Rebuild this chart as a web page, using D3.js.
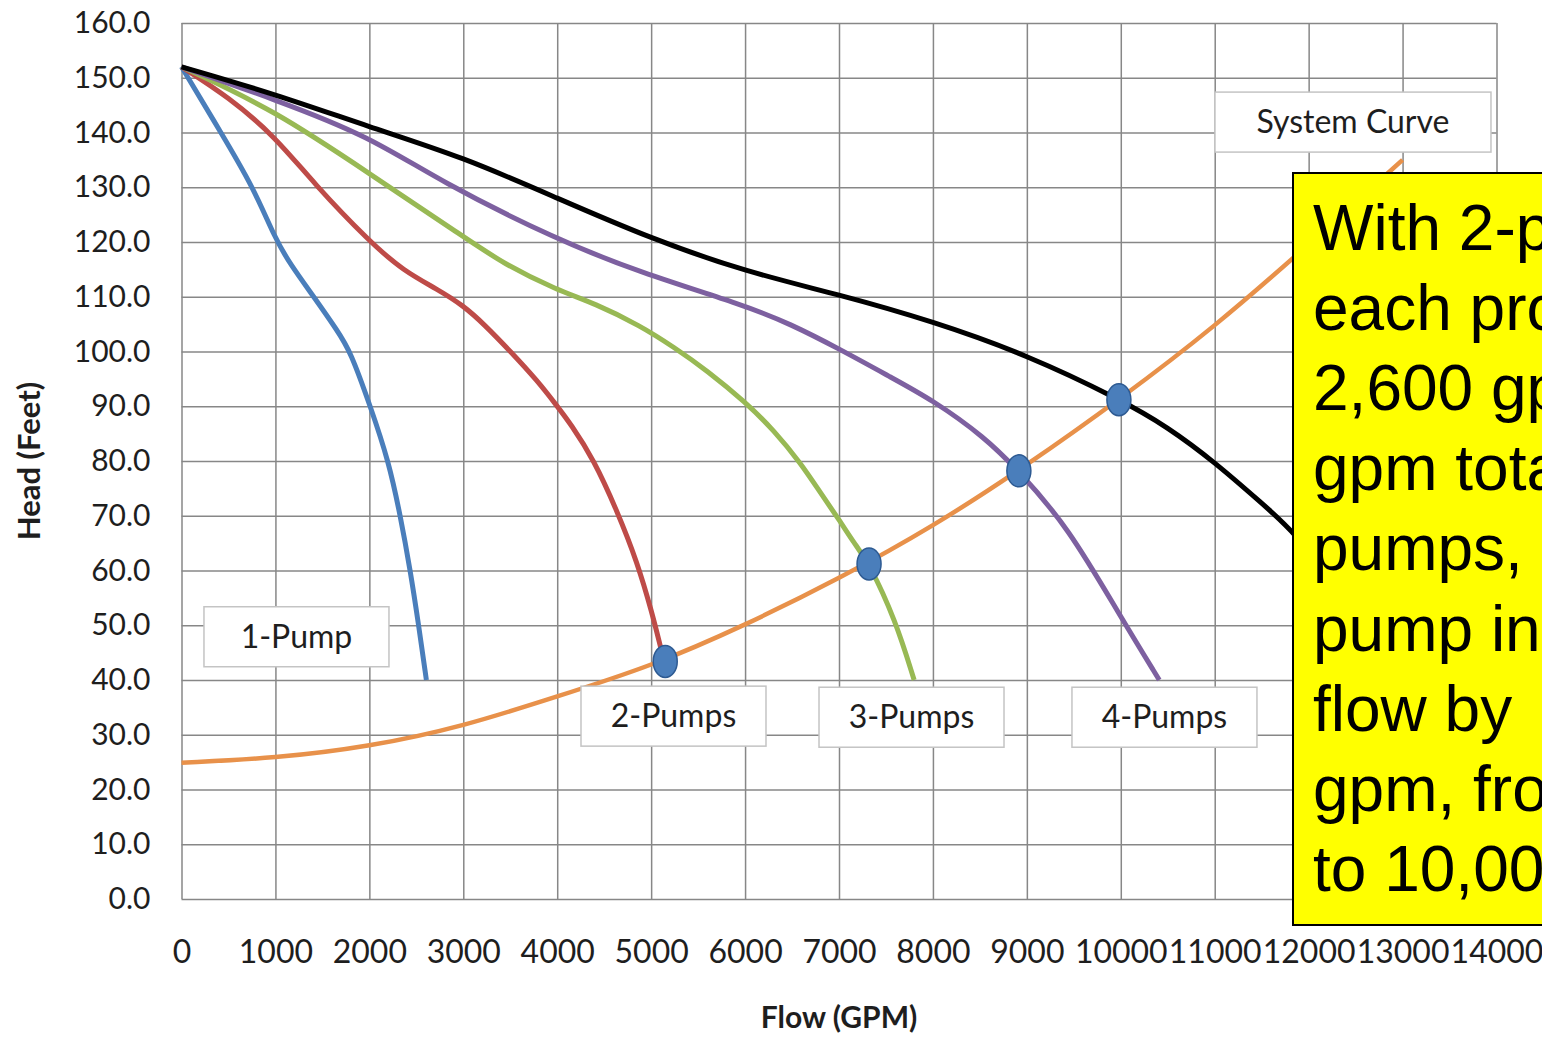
<!DOCTYPE html>
<html>
<head>
<meta charset="utf-8">
<script src="https://cdn.jsdelivr.net/npm/d3@7"></script>
<style>
  html, body { margin: 0; padding: 0; background: #fff; overflow: hidden; }
  svg { display: block; }
  .tick-labels text { font-family: Lato, "Open Sans", sans-serif; fill: #1e1e1e; }
  .tick-labels .domain { display: none; }
  .grid-lines line { stroke: #878787; stroke-width: 1.5; }
  .grid-lines .domain { display: none; }
</style>
</head>
<body>
<div id="chart"></div>
<script>
// axis ticks
const flowTicks = [0, 1000, 2000, 3000, 4000, 5000, 6000, 7000, 8000, 9000, 10000, 11000, 12000, 13000, 14000];
const headTicks = [0, 10, 20, 30, 40, 50, 60, 70, 80, 90, 100, 110, 120, 130, 140, 150, 160];

// pump curves [flow gpm, head ft]
const onePump = [[0,152],[420,140],[765,130],[1000,120.5],[1160,115.9],[1408,110],[1660,103.8],[1800,100],[2010,90],[2205,80],[2330,70],[2436,60],[2525,50],[2607,40]];
const twoPumps = [[0,152],[500,146.5],[1000,139.2],[1403,130.8],[2005,120],[2367,114.7],[2722,111.4],[3000,108.4],[3220,105],[3503,100],[3787,94.7],[4000,90],[4142,86.8],[4388,80.3],[4637,70.9],[4851,61.6],[5011,52.2],[5100,46],[5160,42]];
const threePumps = [[0,152],[1000,144],[2000,132.5],[3000,121],[3430,116],[4000,111.2],[4400,108.8],[4886,104.7],[5242,100.8],[5597,96.5],[6000,90.8],[6308,85.6],[6593,79.6],[6806,74.1],[7000,69.3],[7161,65],[7320,61.3],[7600,51],[7800,40]];
const fourPumps = [[0,152],[1000,146],[2000,139.3],[2750,131.1],[4000,120.4],[4886,114.4],[6000,108.4],[6486,105],[7000,100.5],[7552,95.3],[8000,91.1],[8548,84.4],[8913,78.2],[9437,68],[10000,51.5],[10410,40]];
const fivePumps = [[0,152],[1000,147],[2000,141],[3000,135.5],[4000,128],[5000,120.6],[6000,114.6],[7000,110.4],[8000,105.5],[9000,99.4],[10000,91.2],[10500,86.2],[11000,79.8],[11500,72.3],[11850,67],[12300,57],[12700,46]];
const systemCurve = [[0,24.9],[1000,25.7],[2000,27.8],[3000,31.5],[4000,37],[5000,42.5],[6000,50],[7000,58.5],[8000,68],[9000,79.2],[10000,91.4],[11000,104.5],[12000,119.5],[13000,135]];

// operating points (intersections)
const operatingPoints = [[5150,43.4],[7320,61.2],[8915,78.2],[9980,91.2]];

// curve labels, anchored in data units
const labelTexts = ["1-Pump", "2-Pumps", "3-Pumps", "4-Pumps", "System Curve"];
const labelFlows = [1224, 5238, 7772, 10465, 12472];
const labelHeads = [47.9, 33.4, 33.2, 33.2, 141.9];

const noteLines = ["With 2-pumps,", "each produces", "2,600 gpm; 5,200", "gpm total. At 4", "pumps,", "pump increases", "flow by", "gpm, from 5,200", "to 10,000 gpm."];

const width = 1542, height = 1037;

const svg = d3.select("#chart").append("svg")
  .attr("width", width)
  .attr("height", height);

const x = d3.scaleLinear().domain([0, 14000]).range([181.5, 1496.5]);
const y = d3.scaleLinear().domain([0, 160]).range([899, 23]);

// grid
svg.append("g")
  .attr("class", "grid-lines")
  .attr("transform", `translate(0, ${y(0)})`)
  .call(d3.axisBottom(x).tickValues(flowTicks).tickFormat("").tickSize(-(y(0) - y(160))));

svg.append("g")
  .attr("class", "grid-lines")
  .attr("transform", `translate(${x(0)}, 0)`)
  .call(d3.axisLeft(y).tickValues(headTicks).tickFormat("").tickSize(-(x(14000) - x(0))));

// tick labels
svg.append("g")
  .attr("class", "tick-labels")
  .attr("transform", `translate(0, ${y(0)})`)
  .call(d3.axisBottom(x).tickValues(flowTicks).tickFormat(d3.format("d")).tickSize(0).tickPadding(41))
  .selectAll("text").style("font-size", "32px");

svg.append("g")
  .attr("class", "tick-labels")
  .attr("transform", `translate(${x(0)}, 0)`)
  .call(d3.axisLeft(y).tickValues(headTicks).tickFormat(d3.format(".1f")).tickSize(0).tickPadding(31))
  .selectAll("text").style("font-size", "30px");

// axis titles
svg.append("text")
  .attr("transform", `translate(40, ${(y(0) + y(160)) / 2}) rotate(-90)`)
  .attr("text-anchor", "middle")
  .style("font-family", "Lato, sans-serif")
  .style("font-weight", "bold")
  .style("font-size", "31px")
  .attr("fill", "#1e1e1e")
  .text("Head (Feet)");

svg.append("text")
  .attr("x", (x(0) + x(14000)) / 2)
  .attr("y", 1028)
  .attr("text-anchor", "middle")
  .style("font-family", "Lato, sans-serif")
  .style("font-weight", "bold")
  .style("font-size", "30px")
  .attr("fill", "#1e1e1e")
  .text("Flow (GPM)");

// curves
const line = d3.line()
  .x((d) => x(d[0]))
  .y((d) => y(d[1]))
  .curve(d3.curveBasis);

const series = [
  { data: onePump, color: "#4a7ebb", width: 5 },
  { data: twoPumps, color: "#be4b48", width: 5 },
  { data: threePumps, color: "#98b954", width: 5 },
  { data: fourPumps, color: "#7d60a0", width: 5 },
  { data: fivePumps, color: "#000000", width: 5 },
  { data: systemCurve, color: "#e8914a", width: 4.5 }
];

svg.append("g").selectAll("path")
  .data(series)
  .enter().append("path")
    .attr("d", (d) => line(d.data))
    .attr("fill", "none")
    .attr("stroke", (d) => d.color)
    .attr("stroke-width", (d) => d.width)
    .attr("stroke-linejoin", "round");

svg.append("g").selectAll("ellipse")
  .data(operatingPoints)
  .enter().append("ellipse")
    .attr("cx", (d) => x(d[0]))
    .attr("cy", (d) => y(d[1]))
    .attr("rx", 12)
    .attr("ry", 16)
    .attr("fill", "#4a7ebb")
    .attr("stroke", "#2d5a92")
    .attr("stroke-width", 1.5);

// labels
const labels = svg.append("g").selectAll("g")
  .data(labelTexts)
  .enter().append("g")
    .attr("transform", (d, i) => `translate(${x(labelFlows[i])}, ${y(labelHeads[i])})`);

labels.append("rect")
  .attr("x", (d) => d == "System Curve" ? -138 : -92.5)
  .attr("y", -30)
  .attr("width", (d) => d == "System Curve" ? 276 : 185)
  .attr("height", 60)
  .attr("fill", "#fff")
  .attr("stroke", "#c4c4c4")
  .attr("stroke-width", 1.5);

labels.append("text")
  .attr("text-anchor", "middle")
  .attr("dy", "0.35em")
  .style("font-family", "Lato, sans-serif")
  .style("font-size", "32px")
  .attr("fill", "#1e1e1e")
  .text((d) => d);

// yellow note box
const note = svg.append("g");
note.append("rect")
  .attr("x", 1293)
  .attr("y", 173)
  .attr("width", 280)
  .attr("height", 752)
  .attr("fill", "#ffff00")
  .attr("stroke", "#000")
  .attr("stroke-width", 2);

note.append("text")
  .style("font-family", "'Liberation Sans', Arial, sans-serif")
  .style("font-size", "64px")
  .attr("fill", "#000")
  .selectAll("tspan")
  .data(noteLines)
  .enter().append("tspan")
    .attr("x", 1313)
    .attr("y", (d, i) => 250 + i * 80.1)
    .text((d) => d);
</script>
</body>
</html>
